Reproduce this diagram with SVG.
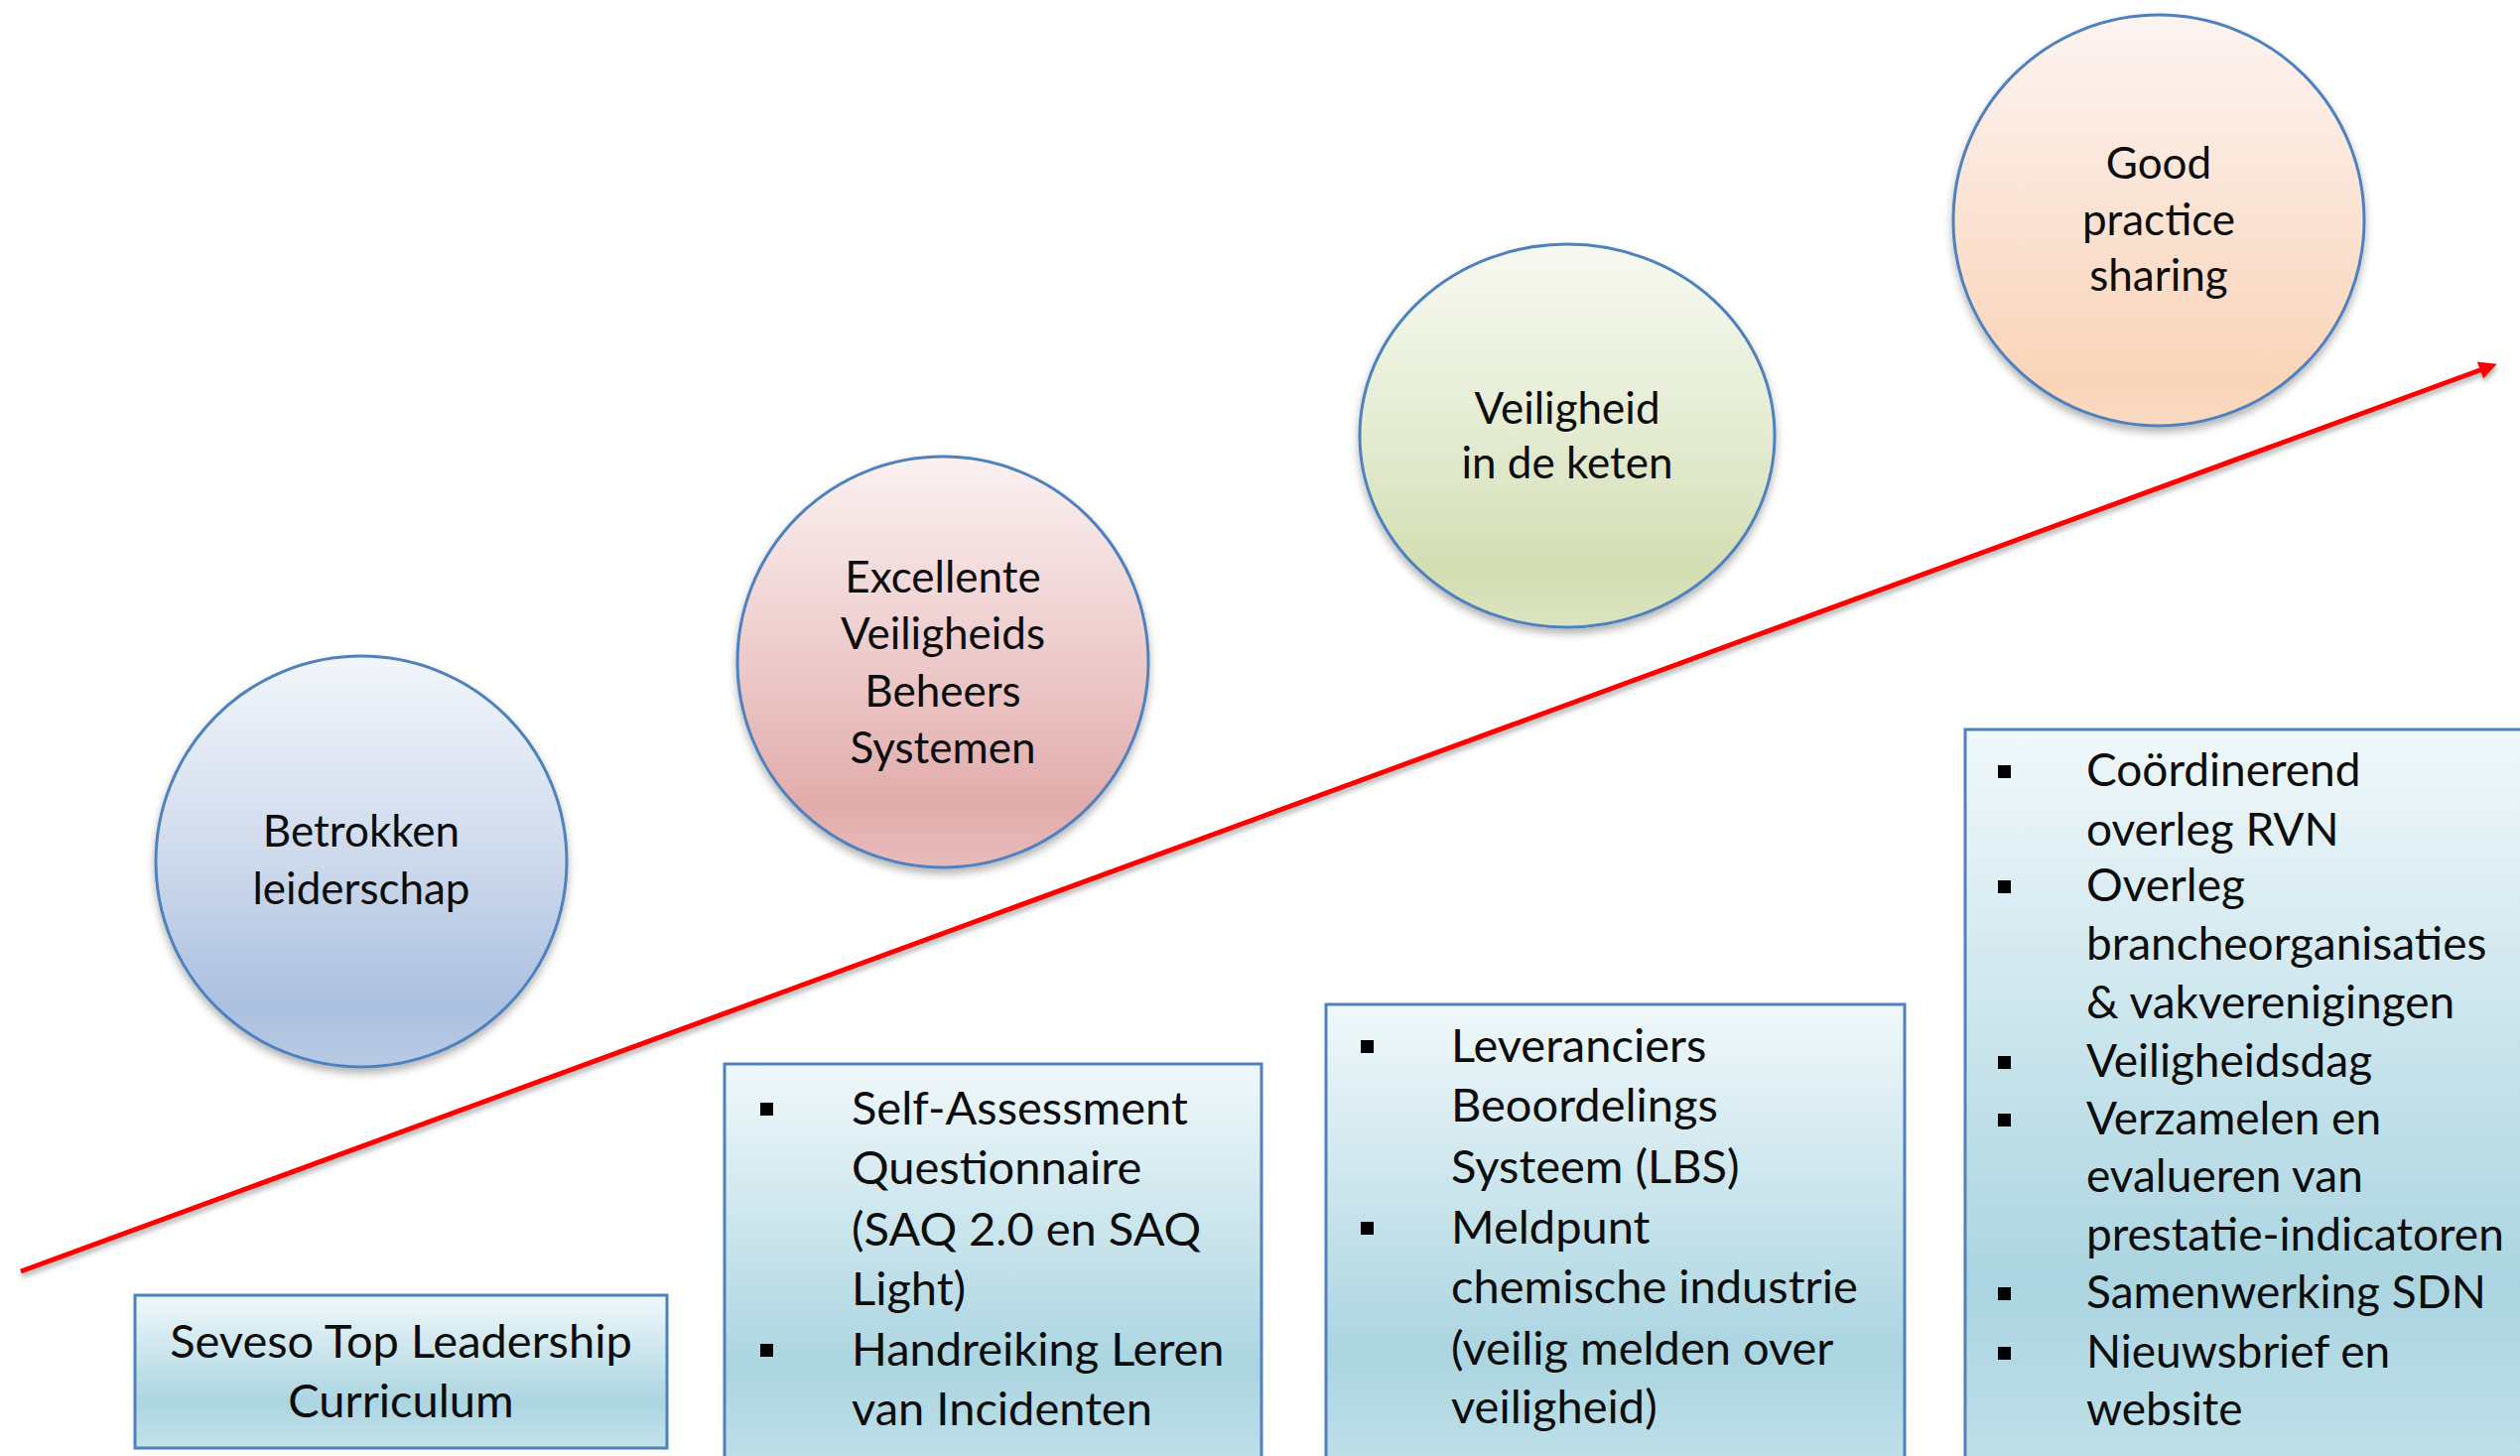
<svg xmlns="http://www.w3.org/2000/svg" width="2539" height="1467" viewBox="0 0 2539 1467">
<style>
.ct{font-family:Lato,"Open Sans","Liberation Sans",sans-serif;font-size:44px;fill:#0d0d0d;text-anchor:middle}
.bt{font-family:Lato,"Open Sans","Liberation Sans",sans-serif;font-size:47px;fill:#0d0d0d}
.b4{font-size:46px}
.bc{text-anchor:middle}
.circ{stroke:#4f81bd;stroke-width:3;filter:url(#sh)}
.box{stroke:#4f81bd;stroke-width:3}
.bul{fill:#000}
</style>
<defs>
<filter id="sh" x="-10%" y="-10%" width="120%" height="125%">
<feDropShadow dx="0" dy="5" stdDeviation="4" flood-color="#000" flood-opacity="0.3"/>
</filter>
<filter id="lsh" x="-5%" y="-20%" width="110%" height="140%">
<feDropShadow dx="1" dy="4" stdDeviation="2.5" flood-color="#000" flood-opacity="0.3"/>
</filter>
<linearGradient id="g1" x1="0" y1="0" x2="0" y2="1">
<stop offset="0" stop-color="#f2f6fb"/><stop offset="0.5" stop-color="#cdd9ec"/><stop offset="0.85" stop-color="#abc0e0"/><stop offset="1" stop-color="#b8cbe5"/>
</linearGradient>
<linearGradient id="g2" x1="0" y1="0" x2="0" y2="1">
<stop offset="0" stop-color="#fbf1f1"/><stop offset="0.5" stop-color="#edcaca"/><stop offset="0.85" stop-color="#e2abab"/><stop offset="1" stop-color="#e8bcbc"/>
</linearGradient>
<linearGradient id="g3" x1="0" y1="0" x2="0" y2="1">
<stop offset="0" stop-color="#f7f9f1"/><stop offset="0.5" stop-color="#e4ebd1"/><stop offset="0.85" stop-color="#d3deb2"/><stop offset="1" stop-color="#dae4c1"/>
</linearGradient>
<linearGradient id="g4" x1="0" y1="0" x2="0" y2="1">
<stop offset="0" stop-color="#fdf4f2"/><stop offset="0.5" stop-color="#fbe2d2"/><stop offset="0.9" stop-color="#fad4b8"/><stop offset="1" stop-color="#fbdac3"/>
</linearGradient>
<linearGradient id="gBox1" gradientUnits="userSpaceOnUse" x1="0" y1="1305" x2="0" y2="1459">
<stop offset="0" stop-color="#f0f8fa"/><stop offset="0.7" stop-color="#abd5e1"/><stop offset="1" stop-color="#c4e2ea"/>
</linearGradient>
<linearGradient id="gBox2" gradientUnits="userSpaceOnUse" x1="0" y1="1072" x2="0" y2="1480">
<stop offset="0" stop-color="#f0f8fa"/><stop offset="0.75" stop-color="#abd5e1"/><stop offset="1" stop-color="#bfe0e9"/>
</linearGradient>
<linearGradient id="gBox3" gradientUnits="userSpaceOnUse" x1="0" y1="1012" x2="0" y2="1480">
<stop offset="0" stop-color="#f0f8fa"/><stop offset="0.75" stop-color="#abd5e1"/><stop offset="1" stop-color="#bfe0e9"/>
</linearGradient>
<linearGradient id="gBox4" gradientUnits="userSpaceOnUse" x1="0" y1="735" x2="0" y2="1480">
<stop offset="0" stop-color="#f0f8fa"/><stop offset="0.75" stop-color="#abd5e1"/><stop offset="1" stop-color="#bfe0e9"/>
</linearGradient>
<marker id="ah" viewBox="0 0 10 10" refX="3" refY="5" markerWidth="4" markerHeight="3.6" orient="auto" markerUnits="strokeWidth">
<path d="M0,0 L10,5 L0,10 z" fill="#ff0000"/>
</marker>
</defs>
<rect width="2539" height="1467" fill="#ffffff"/>

<g id="connectors">
<line x1="21" y1="1281" x2="2504" y2="371" stroke="#ff0000" stroke-width="5" marker-end="url(#ah)" filter="url(#lsh)"/>
</g>

<g id="node-betrokken">
<circle class="circ" cx="364" cy="868" r="207" fill="url(#g1)"/>
<text class="ct" x="364" y="853">Betrokken</text>
<text class="ct" x="364" y="911">leiderschap</text>
</g>

<g id="node-excellente">
<circle class="circ" cx="950" cy="667" r="207" fill="url(#g2)"/>
<text class="ct" x="950" y="597">Excellente</text>
<text class="ct" x="950" y="654">Veiligheids</text>
<text class="ct" x="950" y="712">Beheers</text>
<text class="ct" x="950" y="769">Systemen</text>
</g>

<g id="node-keten">
<ellipse class="circ" cx="1579" cy="439" rx="209" ry="193" fill="url(#g3)"/>
<text class="ct" x="1579" y="427">Veiligheid</text>
<text class="ct" x="1579" y="482">in de keten</text>
</g>

<g id="node-goodpractice">
<circle class="circ" cx="2175" cy="222" r="207" fill="url(#g4)"/>
<text class="ct" x="2175" y="180">Good</text>
<text class="ct" x="2175" y="237">practice</text>
<text class="ct" x="2175" y="293">sharing</text>
</g>

<g id="box-seveso">
<rect class="box" x="136" y="1305" width="536" height="154" fill="url(#gBox1)"/>
<text class="bt bc" x="404" y="1368">Seveso Top Leadership</text>
<text class="bt bc" x="404" y="1428">Curriculum</text>
</g>

<g id="box-saq">
<rect class="box" x="730" y="1072" width="541" height="420" fill="url(#gBox2)"/>
<rect class="bul" x="766" y="1111" width="13" height="13"/>
<text class="bt" x="858" y="1133">Self-Assessment</text>
<text class="bt" x="858" y="1193">Questionnaire</text>
<text class="bt" x="858" y="1255">(SAQ 2.0 en SAQ</text>
<text class="bt" x="858" y="1315">Light)</text>
<rect class="bul" x="766" y="1354" width="13" height="13"/>
<text class="bt" x="858" y="1376">Handreiking Leren</text>
<text class="bt" x="858" y="1436">van Incidenten</text>
</g>

<g id="box-lbs">
<rect class="box" x="1336" y="1012" width="583" height="480" fill="url(#gBox3)"/>
<rect class="bul" x="1371" y="1048" width="13" height="13"/>
<text class="bt" x="1462" y="1070">Leveranciers</text>
<text class="bt" x="1462" y="1130">Beoordelings</text>
<text class="bt" x="1462" y="1192">Systeem (LBS)</text>
<rect class="bul" x="1371" y="1231" width="13" height="13"/>
<text class="bt" x="1462" y="1253">Meldpunt</text>
<text class="bt" x="1462" y="1313">chemische industrie</text>
<text class="bt" x="1462" y="1375">(veilig melden over</text>
<text class="bt" x="1462" y="1434">veiligheid)</text>
</g>

<g id="box-rvn">
<rect class="box" x="1980" y="735" width="600" height="760" fill="url(#gBox4)"/>
<rect class="bul" x="2013" y="771" width="13" height="13"/>
<text class="bt b4" x="2102" y="792">Coördinerend</text>
<text class="bt b4" x="2102" y="852">overleg RVN</text>
<rect class="bul" x="2013" y="887" width="13" height="13"/>
<text class="bt b4" x="2102" y="908">Overleg</text>
<text class="bt b4" x="2102" y="967">brancheorganisaties</text>
<text class="bt b4" x="2102" y="1026">&amp; vakverenigingen</text>
<rect class="bul" x="2013" y="1064" width="13" height="13"/>
<text class="bt b4" x="2102" y="1085">Veiligheidsdag</text>
<rect class="bul" x="2013" y="1122" width="13" height="13"/>
<text class="bt b4" x="2102" y="1143">Verzamelen en</text>
<text class="bt b4" x="2102" y="1201">evalueren van</text>
<text class="bt b4" x="2102" y="1260">prestatie-indicatoren</text>
<rect class="bul" x="2013" y="1297" width="13" height="13"/>
<text class="bt b4" x="2102" y="1318">Samenwerking SDN</text>
<rect class="bul" x="2013" y="1357" width="13" height="13"/>
<text class="bt b4" x="2102" y="1378">Nieuwsbrief en</text>
<text class="bt b4" x="2102" y="1436">website</text>
</g>
</svg>
